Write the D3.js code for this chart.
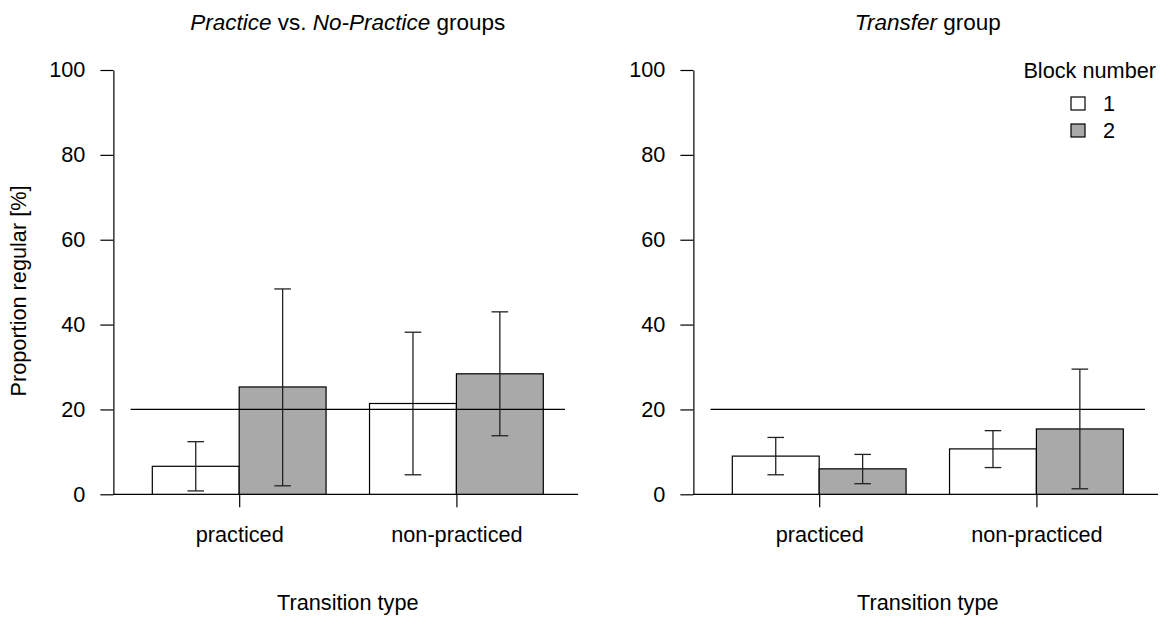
<!DOCTYPE html>
<html>
<head>
<meta charset="utf-8">
<script src="https://cdn.jsdelivr.net/npm/d3@7"></script>
<style>
  body { margin: 0; background: #fff; }
  svg { display: block; font-family: "Liberation Sans", Arial, sans-serif; }
</style>
</head>
<body>
<svg id="chart" width="1165" height="619"></svg>
<script>
// categories and block labels
const categories = ["practiced", "non-practiced"];
const blocks = ["1", "2"];
const chance = 20;
const yTicks = [0, 20, 40, 60, 80, 100];

// Practice vs. No-Practice groups (means and error bar limits, %)
const practiceMean1 = [6.6, 21.4];
const practiceMean2 = [25.3, 28.4];
const practiceLo1 = [0.8, 4.6];
const practiceHi1 = [12.4, 38.2];
const practiceLo2 = [2.0, 13.8];
const practiceHi2 = [48.4, 43.0];

// Transfer group
const transferMean1 = [9.0, 10.7];
const transferMean2 = [6.0, 15.4];
const transferLo1 = [4.6, 6.3];
const transferHi1 = [13.4, 15.0];
const transferLo2 = [2.5, 1.3];
const transferHi2 = [9.4, 29.5];

const fills = ["#ffffff", "#a9a9a9"];
const fontSize = 21.7;
const titleSize = 22.5;

const chart = d3.select("#chart");

const y = d3.scaleLinear().domain([0, 100]).range([494.3, 70]);

const drawPanel = (off, titleParts, means, los, his, withYTitle) => {
  // bar units: group 1 bars at 0.5-1.5, 1.5-2.5; group 2 at 3-4, 4-5
  const x = d3.scaleLinear().domain([0.5, 5]).range([152.3 + off, 543.3 + off]);
  const groupStart = [0.5, 3];
  const g = chart.append("g");

  // baseline
  g.append("line")
    .attr("x1", x(0.05)).attr("x2", x(5.4))
    .attr("y1", y(0)).attr("y2", y(0))
    .attr("stroke", "#000").attr("stroke-width", 1.2);

  // y axis
  const yAxis = g.append("g")
    .attr("transform", `translate(${x(0.052)},0)`)
    .call(d3.axisLeft(y).tickValues(yTicks).tickSize(13).tickSizeOuter(0).tickPadding(15));
  yAxis.selectAll("path, line").attr("stroke", "#000").attr("stroke-width", 1.2);
  yAxis.selectAll("text").attr("font-size", fontSize).attr("fill", "#000")
    .attr("font-family", "Liberation Sans, Arial, sans-serif");

  // x axis ticks and labels
  const xAxis = g.append("g")
    .attr("transform", `translate(0,${y(0)})`)
    .call(d3.axisBottom(x).tickValues(groupStart.map(s => s + 1)).tickFormat((d, i) => categories[i])
      .tickSize(13).tickSizeOuter(0).tickPadding(19));
  xAxis.select(".domain").remove();
  xAxis.selectAll("line").attr("stroke", "#000").attr("stroke-width", 1.2);
  xAxis.selectAll("text").attr("font-size", fontSize).attr("fill", "#000")
    .attr("font-family", "Liberation Sans, Arial, sans-serif");

  // bars
  const bars = [];
  categories.forEach((c, ci) => {
    blocks.forEach((b, bi) => {
      bars.push({
        x0: groupStart[ci] + bi, mean: means[bi][ci],
        lo: los[bi][ci], hi: his[bi][ci], fill: fills[bi]
      });
    });
  });

  g.selectAll("rect.bar").data(bars).join("rect")
    .attr("class", "bar")
    .attr("x", d => x(d.x0))
    .attr("width", d => x(d.x0 + 1) - x(d.x0))
    .attr("y", d => y(d.mean))
    .attr("height", d => y(0) - y(d.mean))
    .attr("fill", d => d.fill)
    .attr("stroke", "#000").attr("stroke-width", 1.2);

  // chance line
  g.append("line")
    .attr("x1", x(0.25)).attr("x2", x(5.25))
    .attr("y1", y(chance)).attr("y2", y(chance))
    .attr("stroke", "#000").attr("stroke-width", 1.2);

  // error bars
  const eb = g.selectAll("g.err").data(bars).join("g").attr("class", "err")
    .attr("stroke", "#222").attr("stroke-width", 1.3);
  eb.append("line")
    .attr("x1", d => x(d.x0 + 0.5)).attr("x2", d => x(d.x0 + 0.5))
    .attr("y1", d => y(d.lo)).attr("y2", d => y(d.hi));
  eb.append("line")
    .attr("x1", d => x(d.x0 + 0.5) - 8.3).attr("x2", d => x(d.x0 + 0.5) + 8.3)
    .attr("y1", d => y(d.lo)).attr("y2", d => y(d.lo));
  eb.append("line")
    .attr("x1", d => x(d.x0 + 0.5) - 8.3).attr("x2", d => x(d.x0 + 0.5) + 8.3)
    .attr("y1", d => y(d.hi)).attr("y2", d => y(d.hi));

  // title
  const t = g.append("text")
    .attr("x", x(2.75)).attr("y", 30)
    .attr("text-anchor", "middle").attr("font-size", titleSize);
  titleParts.forEach(p => {
    t.append("tspan").attr("font-style", p.italic ? "italic" : "normal").text(p.text);
  });

  // x axis title
  g.append("text")
    .attr("x", x(2.75)).attr("y", 610)
    .attr("text-anchor", "middle").attr("font-size", fontSize)
    .text("Transition type");

  // y axis title (left panel only)
  if (withYTitle) {
    g.append("text")
      .attr("transform", `translate(${26 + off},291) rotate(-90)`)
      .attr("text-anchor", "middle").attr("font-size", fontSize)
      .text("Proportion regular [%]");
  }
};

drawPanel(0,
  [{ text: "Practice", italic: true }, { text: " vs. " }, { text: "No-Practice", italic: true }, { text: " groups" }],
  [practiceMean1, practiceMean2], [practiceLo1, practiceLo2], [practiceHi1, practiceHi2], true);

drawPanel(580,
  [{ text: "Transfer", italic: true }, { text: " group" }],
  [transferMean1, transferMean2], [transferLo1, transferLo2], [transferHi1, transferHi2], false);

// legend
const legend = chart.append("g");
legend.append("text")
  .attr("x", 1156).attr("y", 78).attr("text-anchor", "end")
  .attr("font-size", fontSize).text("Block number");
legend.selectAll("rect").data(blocks).join("rect")
  .attr("x", 1071)
  .attr("y", (d, i) => 97 + i * 27)
  .attr("width", 14).attr("height", 13)
  .attr("fill", (d, i) => fills[i])
  .attr("stroke", "#000").attr("stroke-width", 1.2);
legend.selectAll("text.lab").data(blocks).join("text")
  .attr("class", "lab")
  .attr("x", 1103)
  .attr("y", (d, i) => 111 + i * 27)
  .attr("font-size", fontSize).text(d => d);
</script>
</body>
</html>
